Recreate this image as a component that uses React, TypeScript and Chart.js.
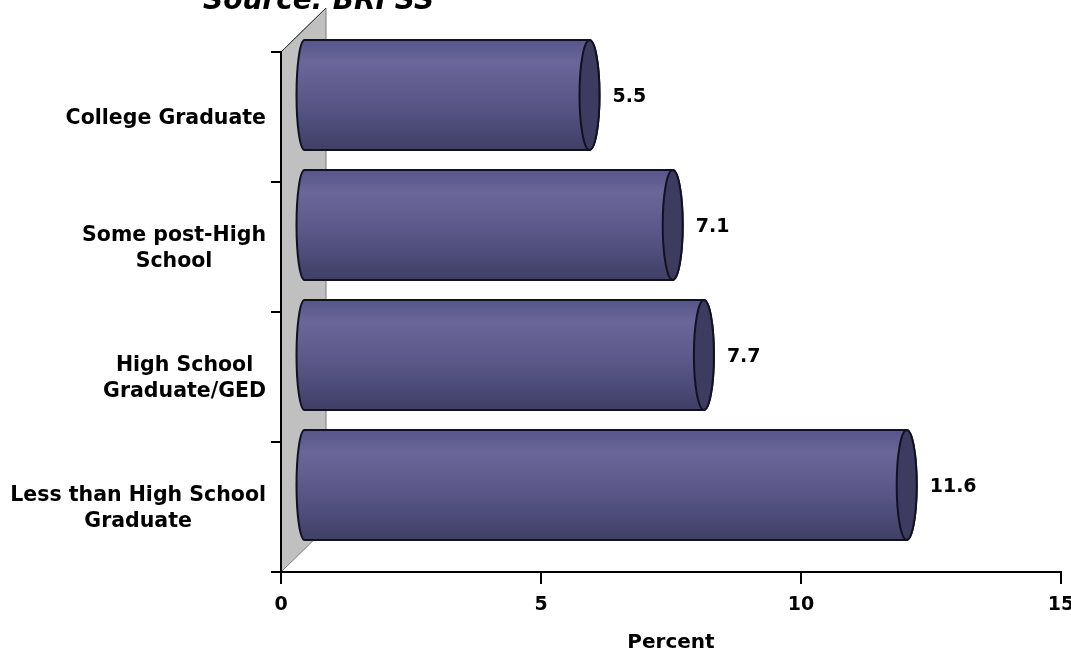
import React, { useEffect, useRef } from "react";
import { Chart, registerables } from "chart.js";

Chart.register(...registerables);

const categories: string[][] = [
  ["College Graduate"],
  ["Some post-High", "School"],
  ["High School", "Graduate/GED"],
  ["Less than High School", "Graduate"],
];
const values: number[] = [5.5, 7.1, 7.7, 11.6];
const xTickValues: number[] = [0, 5, 10, 15];
const titleText = "Source: BRFSS";
const axisTitle = "Percent";

const FONT = '"DejaVu Sans", Verdana, sans-serif';
const DX = 45;
const DY = 44;

const cylinderPlugin = {
  id: "cylinder3d",
  beforeDraw(chart: any) {
    const { ctx, chartArea } = chart;
    const { left, top, bottom } = chartArea;
    ctx.save();
    ctx.beginPath();
    ctx.moveTo(left, top);
    ctx.lineTo(left + DX, top - DY);
    ctx.lineTo(left + DX, bottom - DY);
    ctx.lineTo(left, bottom);
    ctx.closePath();
    ctx.fillStyle = "#c0c0c0";
    ctx.fill();
    ctx.strokeStyle = "#7a7a7a";
    ctx.lineWidth = 1;
    ctx.stroke();
    ctx.beginPath();
    ctx.moveTo(left, top);
    ctx.lineTo(left + DX, top - DY);
    ctx.strokeStyle = "#333";
    ctx.stroke();

    ctx.fillStyle = "#000";
    ctx.font = `italic bold 28px ${FONT}`;
    ctx.textAlign = "left";
    ctx.textBaseline = "alphabetic";
    ctx.fillText(titleText, 203, 9);
    ctx.restore();
  },
  afterDatasetsDraw(chart: any) {
    const { ctx } = chart;
    const meta = chart.getDatasetMeta(0);
    ctx.save();
    meta.data.forEach((el: any, i: number) => {
      const { x, y, base, height } = el.getProps(["x", "y", "base", "height"], true);
      const ox = DX / 2;
      const oy = DY / 2;
      const x0 = base + ox;
      const x1 = x + ox;
      const yc = y - oy;
      const h = height / 2;
      const rx0 = 8;
      const rx1 = 10;
      const grad = ctx.createLinearGradient(0, yc - h, 0, yc + h);
      grad.addColorStop(0, "#57558a");
      grad.addColorStop(0.2, "#6a6699");
      grad.addColorStop(0.55, "#5b5889");
      grad.addColorStop(1, "#3f3f66");
      ctx.beginPath();
      ctx.moveTo(x0, yc - h);
      ctx.lineTo(x1, yc - h);
      ctx.ellipse(x1, yc, rx1, h, 0, -Math.PI / 2, Math.PI / 2, false);
      ctx.lineTo(x0, yc + h);
      ctx.ellipse(x0, yc, rx0, h, 0, Math.PI / 2, (3 * Math.PI) / 2, false);
      ctx.closePath();
      ctx.fillStyle = grad;
      ctx.fill();
      ctx.strokeStyle = "#111122";
      ctx.lineWidth = 2;
      ctx.stroke();

      ctx.beginPath();
      ctx.ellipse(x1, yc, rx1, h, 0, 0, Math.PI * 2);
      ctx.fillStyle = "#3d3c60";
      ctx.fill();
      ctx.stroke();

      ctx.fillStyle = "#000";
      ctx.font = `bold 19px ${FONT}`;
      ctx.textAlign = "left";
      ctx.textBaseline = "middle";
      ctx.fillText(String(values[i]), x1 + 23, yc + 2);
    });
    ctx.restore();
  },
  afterDraw(chart: any) {
    const { ctx } = chart;
    const yScale = chart.scales.y;
    ctx.save();
    ctx.fillStyle = "#000";
    ctx.font = `bold 20.5px ${FONT}`;
    ctx.textAlign = "center";
    ctx.textBaseline = "middle";
    categories.forEach((lines, i) => {
      const yc = yScale.getPixelForValue(i) + 2;
      const maxW = Math.max(...lines.map((l) => ctx.measureText(l).width));
      const cx = yScale.right - 15 - maxW / 2;
      lines.forEach((l, j) => {
        ctx.fillText(l, cx, yc + (j - (lines.length - 1) / 2) * 26);
      });
    });
    ctx.restore();
  },
};

export default function App() {
  const ref = useRef<HTMLCanvasElement | null>(null);
  useEffect(() => {
    if (!ref.current) return;
    const chart = new Chart(ref.current, {
      type: "bar",
      data: {
        labels: categories,
        datasets: [
          {
            data: values,
            backgroundColor: "rgba(0,0,0,0)",
            borderWidth: 0,
            categoryPercentage: 1,
            barPercentage: 0.846,
          },
        ],
      },
      options: {
        indexAxis: "y",
        animation: false,
        responsive: false,
        events: [],
        layout: { padding: { top: 52, right: 10, left: 0, bottom: 0 } },
        plugins: {
          legend: { display: false },
          tooltip: { enabled: false },
          title: { display: false },
        },
        scales: {
          x: {
            type: "linear",
            min: 0,
            max: 15,
            afterBuildTicks(scale: any) {
              scale.ticks = xTickValues.map((v) => ({ value: v }));
            },
            ticks: {
              color: "#000",
              font: { family: FONT, size: 19, weight: "bold" },
              padding: 10,
            },
            grid: {
              drawOnChartArea: false,
              drawTicks: true,
              tickLength: 12,
              color: "#000",
              lineWidth: 2,
            },
            border: { color: "#000", width: 2 },
            title: {
              display: true,
              text: axisTitle,
              color: "#000",
              font: { family: FONT, size: 20, weight: "bold" },
              padding: { top: 0, bottom: 3 },
            },
            afterFit(scale: any) {
              scale.height = 86;
              scale.paddingLeft = 0;
              scale.paddingRight = 0;
            },
          },
          y: {
            type: "category",
            offset: true,
            ticks: { display: false },
            grid: {
              offset: true,
              drawOnChartArea: false,
              drawTicks: true,
              tickLength: 10,
              color: "#000",
              lineWidth: 2,
            },
            border: { color: "#000", width: 2 },
            afterFit(scale: any) {
              scale.width = 281;
              scale.paddingTop = 0;
              scale.paddingBottom = 0;
            },
          },
        },
      },
      plugins: [cylinderPlugin],
    } as any);
    return () => chart.destroy();
  }, []);
  return (
    <div style={{ position: "fixed", left: 0, top: 0, width: 1071, height: 658, background: "#fff" }}>
      <canvas ref={ref} width={1071} height={658} style={{ display: "block" }} />
    </div>
  );
}
